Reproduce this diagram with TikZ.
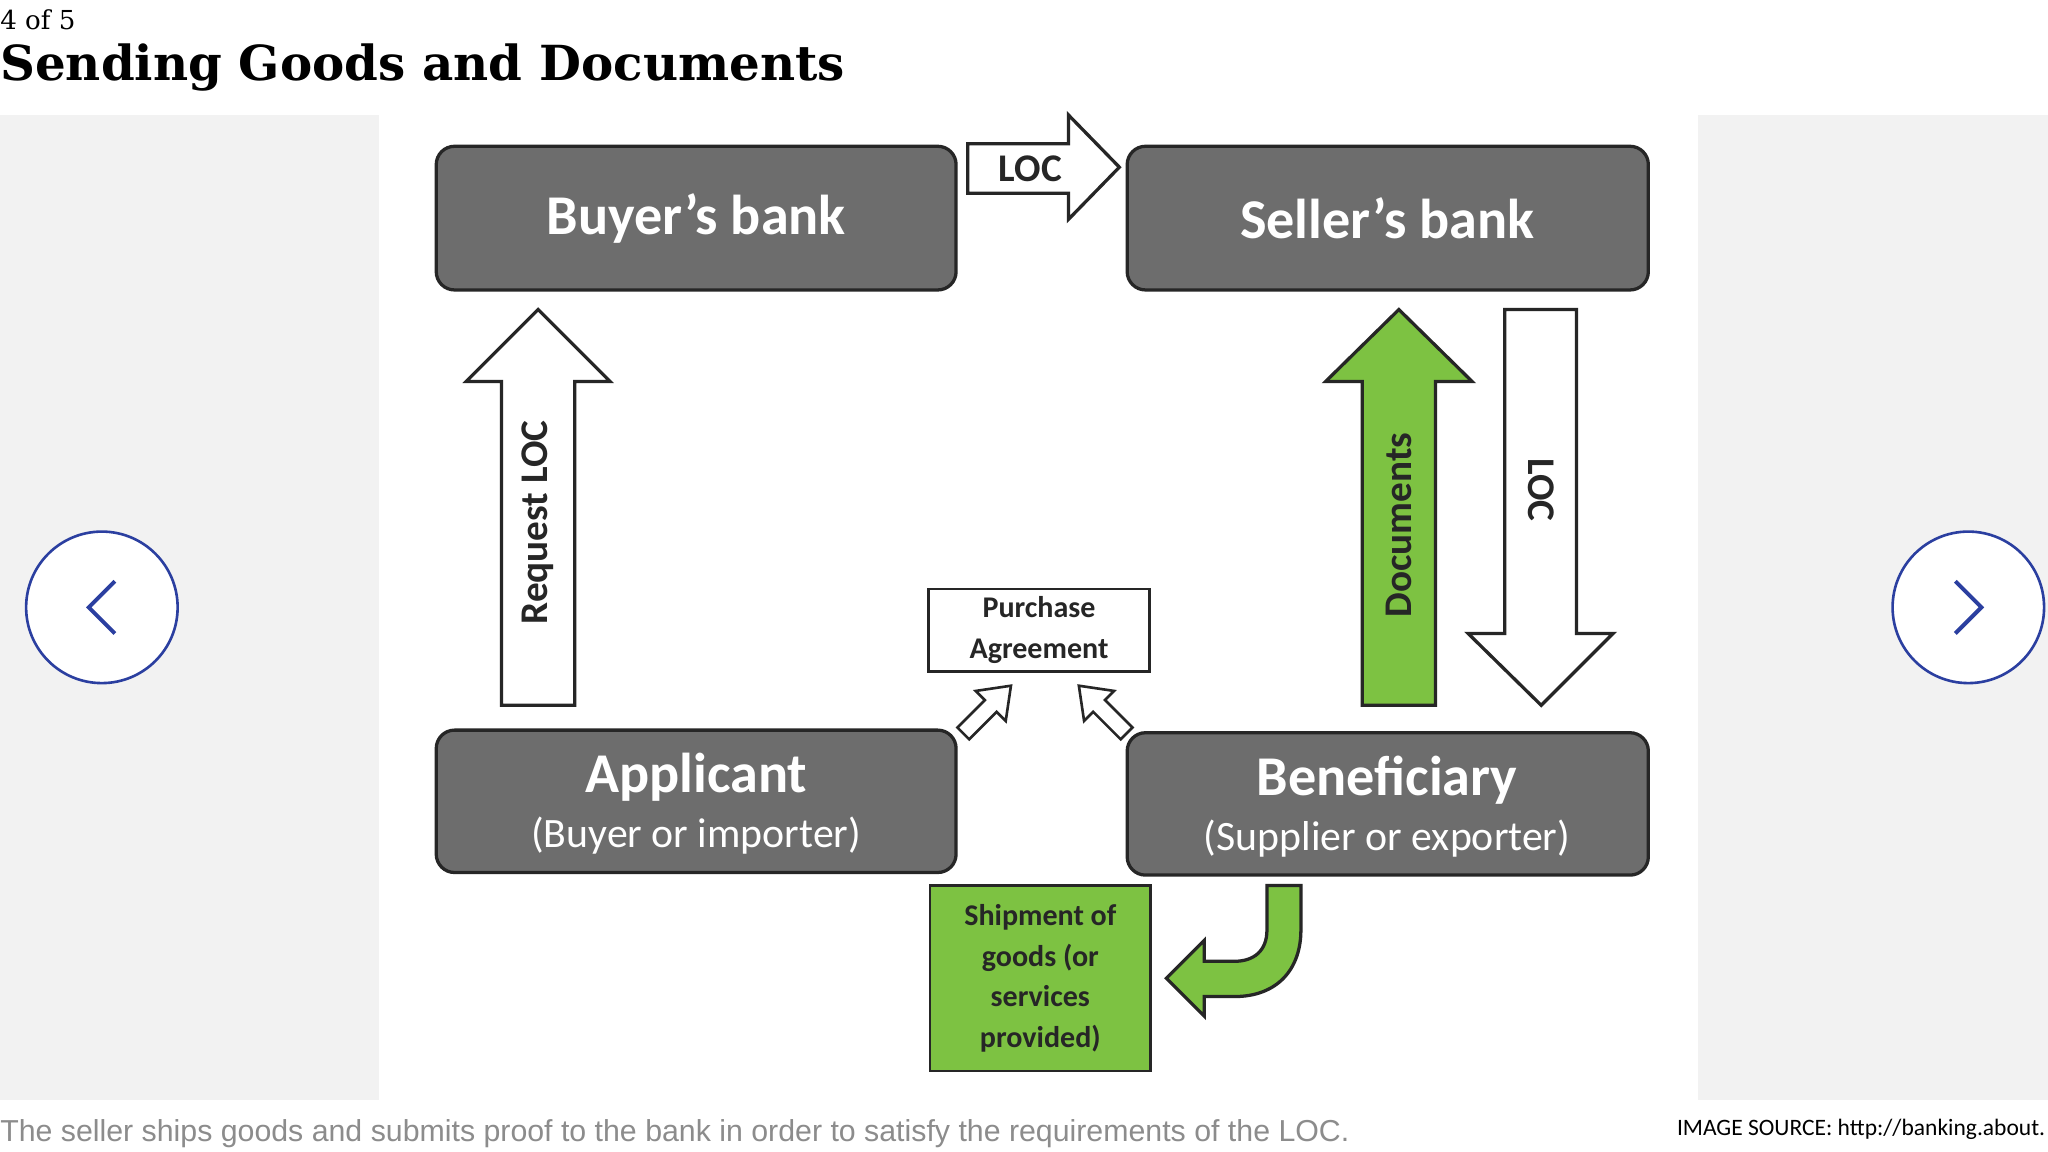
\documentclass[tikz,border=0pt]{standalone}
\usepackage{fontspec}
\setmainfont{Carlito}
\newfontfamily\titlefont{DejaVu Serif}
\newfontfamily\capfont{Liberation Sans}
\definecolor{boxgray}{HTML}{6D6D6D}
\definecolor{gr}{HTML}{7DC242}
\definecolor{panel}{HTML}{F2F2F2}
\definecolor{navblue}{HTML}{2B3FA0}
\begin{document}
\begin{tikzpicture}[x=1pt,y=-1pt,
  bank/.style={draw=black!85,line width=2.5pt,fill=boxgray,rounded corners=14pt},
  fat/.style={draw=black!85,line width=2.5pt,line join=miter},
  big/.style={text=white,font=\bfseries\fontsize{43}{46}\selectfont},
  sub/.style={text=white,font=\fontsize{32}{34}\selectfont},
  lbl/.style={font=\bfseries\fontsize{30}{32}\selectfont,text=black!85}]
\useasboundingbox (0,0) rectangle (1568,882);
\fill[white] (0,0) rectangle (1568,882);
\fill[panel] (0,88) rectangle (290,842);
\fill[panel] (1300,88) rectangle (1568,842);
\node[anchor=west,inner sep=0,font=\titlefont\fontsize{20}{22}\selectfont] (pg) at (0,15) {4 of 5};
\node[anchor=west,inner sep=0,font=\titlefont\bfseries\fontsize{37}{42}\selectfont] (title) at (0,52) {Sending Goods and Documents};
% nav
\node[circle,draw=navblue,line width=2pt,minimum size=116pt,fill=white] (prev) at (78,465) {};
\draw[navblue,line width=3pt] (88,445) -- (68,465) -- (88,485);
\node[circle,draw=navblue,line width=2pt,minimum size=116pt,fill=white] (next) at (1507,465) {};
\draw[navblue,line width=3pt] (1497,445) -- (1517,465) -- (1497,485);
% banks
\draw[bank] (334,112) rectangle (732,222);
\node[big] (bb) at (533,167) {Buyer’s bank};
\draw[bank] (863,112) rectangle (1262,222);
\node[big] (sb) at (1062,167) {Seller’s bank};
\draw[bank] (334,559) rectangle (732,668);
\node[big] (ap) at (533,595) {Applicant};
\node[sub] (ap2) at (533,640) {(Buyer or importer)};
\draw[bank] (863,561) rectangle (1262,670);
\node[big] (be) at (1062,597) {Beneficiary};
\node[sub] (be2) at (1062,642) {(Supplier or exporter)};
% LOC right arrow
\draw[fat,fill=white] (741,110) -- (818,110) -- (818,88) -- (857,128) -- (818,168) -- (818,148) -- (741,148) -- cycle;
\node[lbl] (loc1) at (789,129) {LOC};
% Request LOC
\draw[fat,fill=white] (384,540) -- (384,292) -- (357,292) -- (412,237) -- (467,292) -- (440,292) -- (440,540) -- cycle;
\node[lbl,rotate=90] (req) at (412,400) {Request LOC};
% Documents
\draw[fat,fill=gr] (1043,540) -- (1043,292) -- (1015,292) -- (1071,237) -- (1127,292) -- (1099,292) -- (1099,540) -- cycle;
\node[lbl,rotate=90] (doc) at (1071,402) {Documents};
% LOC down
\draw[fat,fill=white] (1152,237) -- (1207,237) -- (1207,485) -- (1235,485) -- (1180,540) -- (1124,485) -- (1152,485) -- cycle;
\node[lbl,rotate=-90] (loc2) at (1180,375) {LOC};
% purchase agreement
\node[draw=black!85,line width=2pt,fill=white,minimum width=169pt,minimum height=63pt,align=center,font=\bfseries\fontsize{23}{31}\selectfont,text=black!85] (pa) at (795.5,482.5) {Purchase\\Agreement};
\draw[fat,line width=2pt,fill=white] (733,557) -- (754,536) -- (747,529) -- (774,525) -- (770,552) -- (763,545) -- (742,566) -- cycle;
\draw[fat,line width=2pt,fill=white] (867,557) -- (846,536) -- (853,529) -- (826,525) -- (830,552) -- (837,545) -- (858,566) -- cycle;
% shipment
\node[draw=black!85,line width=2pt,fill=gr,minimum width=169pt,minimum height=142pt,align=center,font=\bfseries\fontsize{23}{31}\selectfont,text=black!85] (sh) at (796.5,749) {Shipment of\\goods (or\\services\\provided)};
\draw[fat,fill=gr] (970,678) -- (970,712) .. controls (970,728) and (960,736) .. (945,736) -- (922,736) -- (922,720) -- (893,749) -- (922,778) -- (922,763) -- (945,763) .. controls (978,763) and (996,742) .. (996,712) -- (996,678) -- cycle;
% captions
\node[anchor=west,inner sep=0,text=black!45,font=\capfont\fontsize{23.2}{26}\selectfont] (cap) at (0,868) {The seller ships goods and submits proof to the bank in order to satisfy the requirements of the LOC.};
\node[anchor=east,inner sep=0,font=\fontsize{18}{20}\selectfont] (src) at (1566,865) {IMAGE SOURCE: http://banking.about.};
\end{tikzpicture}
\end{document}
